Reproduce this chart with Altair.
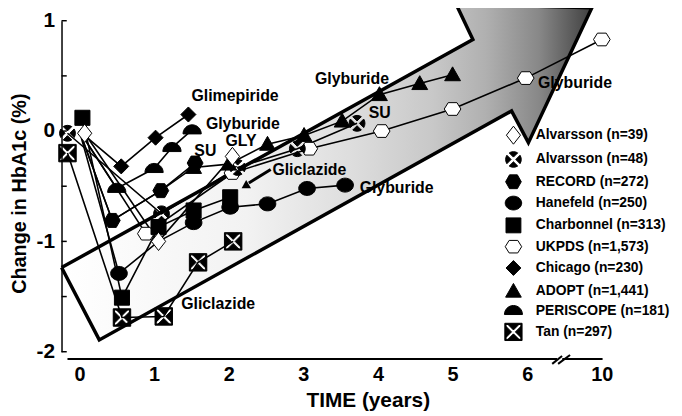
import altair as alt
import pandas as pd

FONT = "Liberation Sans"

# ---------------- data (x in years; y = change in HbA1c, %) ----------------
studies = ["Alvarsson (n=39)", "Alvarsson (n=48)", "RECORD (n=272)", "Hanefeld (n=250)",
           "Charbonnel (n=313)", "UKPDS (n=1,573)", "Chicago (n=230)", "ADOPT (n=1,441)",
           "PERISCOPE (n=181)", "Tan (n=297)"]

alv39_t = [0.07, 1.06, 2.05]
alv39_v = [-0.02, -1.00, -0.23]
alv48_t = [-0.16, 1.10, 2.12, 2.92, 3.72]
alv48_v = [-0.02, -0.75, -0.33, -0.16, 0.07]
record_t = [0.0, 0.44, 1.09, 1.55]
record_v = [0.0, -0.81, -0.54, -0.29]
hanefeld_t = [0.0, 0.53, 1.06, 1.53, 2.02, 2.52, 3.05, 3.56]
hanefeld_v = [0.0, -1.29, -1.00, -0.83, -0.69, -0.66, -0.52, -0.49]
charb_t = [0.04, 0.57, 1.06, 1.53, 2.02]
charb_v = [0.12, -1.51, -0.87, -0.72, -0.60]
ukpds_t = [0.0, 0.89, 2.05, 3.08, 4.05, 5.0, 5.98, 10.0]
ukpds_v = [0.0, -0.93, -0.38, -0.16, 0.0, 0.20, 0.48, 0.83]
chicago_t = [0.0, 0.56, 1.02, 1.46]
chicago_v = [0.0, -0.32, -0.06, 0.15]
adopt_t = [0.0, 0.44, 1.09, 1.53, 2.0, 2.52, 3.01, 3.52, 4.02, 4.56, 5.0]
adopt_v = [0.0, -0.81, -0.54, -0.33, -0.30, -0.12, -0.04, 0.09, 0.33, 0.43, 0.51]
peri_t = [0.0, 0.50, 1.00, 1.24, 1.51]
peri_v = [0.0, -0.52, -0.34, -0.15, 0.01]
tan_t = [-0.16, 0.57, 1.13, 1.59, 2.06]
tan_v = [-0.20, -1.69, -1.68, -1.19, -1.00]

series_t = [alv39_t, alv48_t, record_t, hanefeld_t, charb_t, ukpds_t, chicago_t, adopt_t, peri_t, tan_t]
series_v = [alv39_v, alv48_v, record_v, hanefeld_v, charb_v, ukpds_v, chicago_v, adopt_v, peri_v, tan_v]

# points whose marker is hidden under other markers in the original
hidden = {"RECORD (n=272)": [0], "Hanefeld (n=250)": [0, 2], "UKPDS (n=1,573)": [0],
          "Chicago (n=230)": [0], "ADOPT (n=1,441)": [0, 1, 2], "PERISCOPE (n=181)": [0]}

# drawing order of markers (later = on top)
draw_order = ["UKPDS (n=1,573)", "ADOPT (n=1,441)", "Hanefeld (n=250)", "Charbonnel (n=313)",
              "RECORD (n=272)", "PERISCOPE (n=181)", "Chicago (n=230)", "Tan (n=297)",
              "Alvarsson (n=48)", "Alvarsson (n=39)"]

fills = ["white", "black", "black", "black", "black", "white", "black", "black", "black", "black"]
strokes = ["black"] * 10
shapes = [
    "M0,-1.15L0.9,0L0,1.15L-0.9,0Z",
    "M0,-0.3L-0.54,-0.84A1,1 0 0 1 0.54,-0.84Z M0.3,0L0.84,-0.54A1,1 0 0 1 0.84,0.54Z "
    "M0,0.3L0.54,0.84A1,1 0 0 1 -0.54,0.84Z M-0.3,0L-0.84,0.54A1,1 0 0 1 -0.84,-0.54Z",
    "M-1,0L-0.5,-0.88L0.5,-0.88L1,0L0.5,0.88L-0.5,0.88Z",
    "M-1.05,0A1.05,0.88 0 1 1 1.05,0A1.05,0.88 0 1 1 -1.05,0Z",
    "M-0.95,-0.95L0.95,-0.95L0.95,0.95L-0.95,0.95Z",
    "M-1.05,0L-0.55,-0.8L0.55,-0.8L1.05,0L0.55,0.8L-0.55,0.8Z",
    "M0,-0.95L0.95,0L0,0.95L-0.95,0Z",
    "M0,-1L1,0.75L-1,0.75Z",
    "M-1.15,0.5A1.15,1.15 0 0 1 1.15,0.5Z",
    "M-1.1,-1.1L1.1,-1.1L1.1,1.1L-1.1,1.1Z M-0.95,-0.95L-0.95,0.95L0.95,0.95L0.95,-0.95Z "
    "M0,-0.25L-0.7,-0.95L0.7,-0.95Z M0.25,0L0.95,-0.7L0.95,0.7Z "
    "M0,0.25L0.7,0.95L-0.7,0.95Z M-0.25,0L-0.95,0.7L-0.95,-0.7Z",
]

# annotation labels
label_text = ["Glimepiride", "Glyburide", "SU", "GLY", "Gliclazide", "Gliclazide",
              "Glyburide", "SU", "Glyburide", "Glyburide"]
label_x = [2.085, 2.19, 1.687, 2.165, 3.081, 1.859, 3.652, 4.024, 4.25, 6.64]
label_y = [0.317, 0.066, -0.177, -0.087, -0.357, -1.569, 0.47, 0.164, -0.518, 0.434]

# big background arrow outline (x in display units, y in HbA1c units)
arrow_x = [-0.239, 5.272, 5.046, 6.866, 6.016, 5.79, 0.266, -0.239]
arrow_y = [-1.237, 0.829, 1.152, 1.117, -0.105, 0.182, -1.893, -1.237]

# x-axis (broken) line and break marks
axline_x = [-0.16, 6.47]
axline_x2 = [6.40, 7.01]
axline_y = [-2.065, -2.065]
brk_x = [6.335, 6.414]
brk_x2 = [6.467, 6.574]
brk_y = [-2.11, -2.11]
brk_y2 = [-2.038, -2.029]

ytick_vals = [-2.0, -1.5, -1.0, -0.5, 0.0, 0.5, 1.0]

# pointer from the "Gliclazide" label to the Charbonnel marker
ptr_x, ptr_x2, ptr_y, ptr_y2 = [2.563], [2.27], [-0.349], [-0.47]
ptr_head_x, ptr_head_y = [2.22], [-0.50]

X_MIN, X_MAX = -0.24, 7.967


def xpos(t):
    return t if t <= 6 else 6 + (t - 6) / 4.0


rows = []
for s, ts, vs in zip(studies, series_t, series_v):
    for i, (t, v) in enumerate(zip(ts, vs)):
        rows.append({"study": s, "x": xpos(t), "y": v, "idx": i,
                     "show": i not in hidden.get(s, [])})
df = pd.DataFrame(rows)
pts = df[df["show"]].copy()
pts["z"] = pts["study"].map({s: k for k, s in enumerate(draw_order)})
pts = pts.sort_values(["z", "idx"]).drop(columns=["z"])

arrow_df = pd.DataFrame({"x": arrow_x, "y": arrow_y, "idx": list(range(len(arrow_x)))})
lab_df = pd.DataFrame({"x": label_x, "y": label_y, "text": label_text})
axl_df = pd.DataFrame({"x": axline_x, "x2": axline_x2, "y": axline_y, "y2": axline_y})
brk_df = pd.DataFrame({"x": brk_x, "x2": brk_x2, "y": brk_y, "y2": brk_y2})
tick_df = pd.DataFrame({"x": [X_MIN] * len(ytick_vals), "x2": [X_MIN + 0.07] * len(ytick_vals),
                        "y": ytick_vals})
ptr_df = pd.DataFrame({"x": ptr_x, "x2": ptr_x2, "y": ptr_y, "y2": ptr_y2})
head_df = pd.DataFrame({"x": ptr_head_x, "y": ptr_head_y})

xscale = alt.Scale(domain=[X_MIN, X_MAX], nice=False, zero=False)
yscale = alt.Scale(domain=[-2, 1], nice=False, zero=False)

xaxis = alt.Axis(values=[0, 1, 2, 3, 4, 5, 6, 7],
                 labelExpr="datum.value == 7 ? '10' : datum.label",
                 domain=False, ticks=False, grid=False,
                 labelFont=FONT, labelFontSize=20, labelFontWeight="bold", labelColor="black",
                 labelPadding=13, title="TIME (years)", titleFont=FONT, titleFontSize=21,
                 titleFontWeight="bold", titleColor="black", titlePadding=5)
yaxis = alt.Axis(values=[-2, -1, 0, 1],
                 labelExpr="datum.value == -2 ? '-2' : datum.value == -1 ? '-1' : datum.label",
                 domain=True, domainColor="black", domainWidth=1.5, ticks=False, grid=False,
                 labelFont=FONT, labelFontSize=21, labelFontWeight="bold", labelColor="black",
                 labelPadding=7, title="Change in HbA1c (%)", titleFont=FONT, titleFontSize=20,
                 titleFontWeight="bold", titleColor="black", titleX=-42, titleY=174,
                 titleBaseline="middle", titleAlign="center", titleAngle=270)

X = alt.X("x:Q", scale=xscale, axis=xaxis, title="TIME (years)")
Y = alt.Y("y:Q", scale=yscale, axis=yaxis, title="Change in HbA1c (%)")

grad = alt.LinearGradient(gradient="linear", x1=0, y1=0, x2=1, y2=0, stops=[
    alt.GradientStop(color="#ffffff", offset=0),
    alt.GradientStop(color="#f2f2f2", offset=0.35),
    alt.GradientStop(color="#dddddd", offset=0.55),
    alt.GradientStop(color="#c8c8c8", offset=0.7),
    alt.GradientStop(color="#b0b0b0", offset=0.8),
    alt.GradientStop(color="#888888", offset=0.9),
    alt.GradientStop(color="#404040", offset=1.0),
])

arrow = alt.Chart(arrow_df).mark_line(fill=grad, stroke="black", strokeWidth=3.5,
                                      strokeJoin="miter", strokeMiterLimit=10).encode(
    x=X, y=Y, order="idx:Q")

lines = alt.Chart(df).mark_line(color="black", strokeWidth=1.6).encode(
    x=X, y=Y, detail="study:N", order="idx:Q")

leg = alt.Legend(orient="none", legendX=447.5, legendY=107, padding=0,
                 labelFont=FONT, labelFontSize=14, labelFontWeight="bold", labelColor="black",
                 labelOffset=14, rowPadding=2.5, symbolSize=250, symbolStrokeWidth=1,
                 symbolOpacity=1, labelLimit=300)

points = alt.Chart(pts).mark_point(filled=True, opacity=1, strokeWidth=1, size=256).encode(
    x=X, y=Y,
    fill=alt.Fill("study:N", scale=alt.Scale(domain=studies, range=fills), legend=leg, title=None),
    stroke=alt.Stroke("study:N", scale=alt.Scale(domain=studies, range=strokes), legend=leg,
                      title=None),
    shape=alt.Shape("study:N", scale=alt.Scale(domain=studies, range=shapes), legend=leg,
                    title=None),
)

axl = alt.Chart(axl_df).mark_rule(color="black", strokeWidth=2).encode(
    x=X, x2="x2:Q", y=Y, y2="y2:Q")
brk = alt.Chart(brk_df).mark_rule(color="black", strokeWidth=2).encode(
    x=X, x2="x2:Q", y=Y, y2="y2:Q")
ticks = alt.Chart(tick_df).mark_rule(color="black", strokeWidth=1.5).encode(
    x=X, x2="x2:Q", y=Y)

labels = alt.Chart(lab_df).mark_text(font=FONT, fontSize=16, fontWeight="bold", color="black",
                                     align="center", baseline="middle").encode(
    x=X, y=Y, text="text:N")

ptr = alt.Chart(ptr_df).mark_rule(color="black", strokeWidth=3).encode(
    x=X, x2="x2:Q", y=Y, y2="y2:Q")
head = alt.Chart(head_df).mark_point(shape="triangle-up", filled=True, opacity=1, color="black",
                                     size=90, angle=239).encode(x=X, y=Y)

chart = alt.layer(arrow, lines, points, axl, brk, ticks, ptr, head, labels).properties(
    width=618, height=334,
    autosize=alt.AutoSizeParams(type="none"),
    padding={"left": 54, "top": 11, "right": 0, "bottom": 61},
).configure_view(stroke=None)

chart.save("out.html", embed_options={"renderer": "svg", "actions": False})
